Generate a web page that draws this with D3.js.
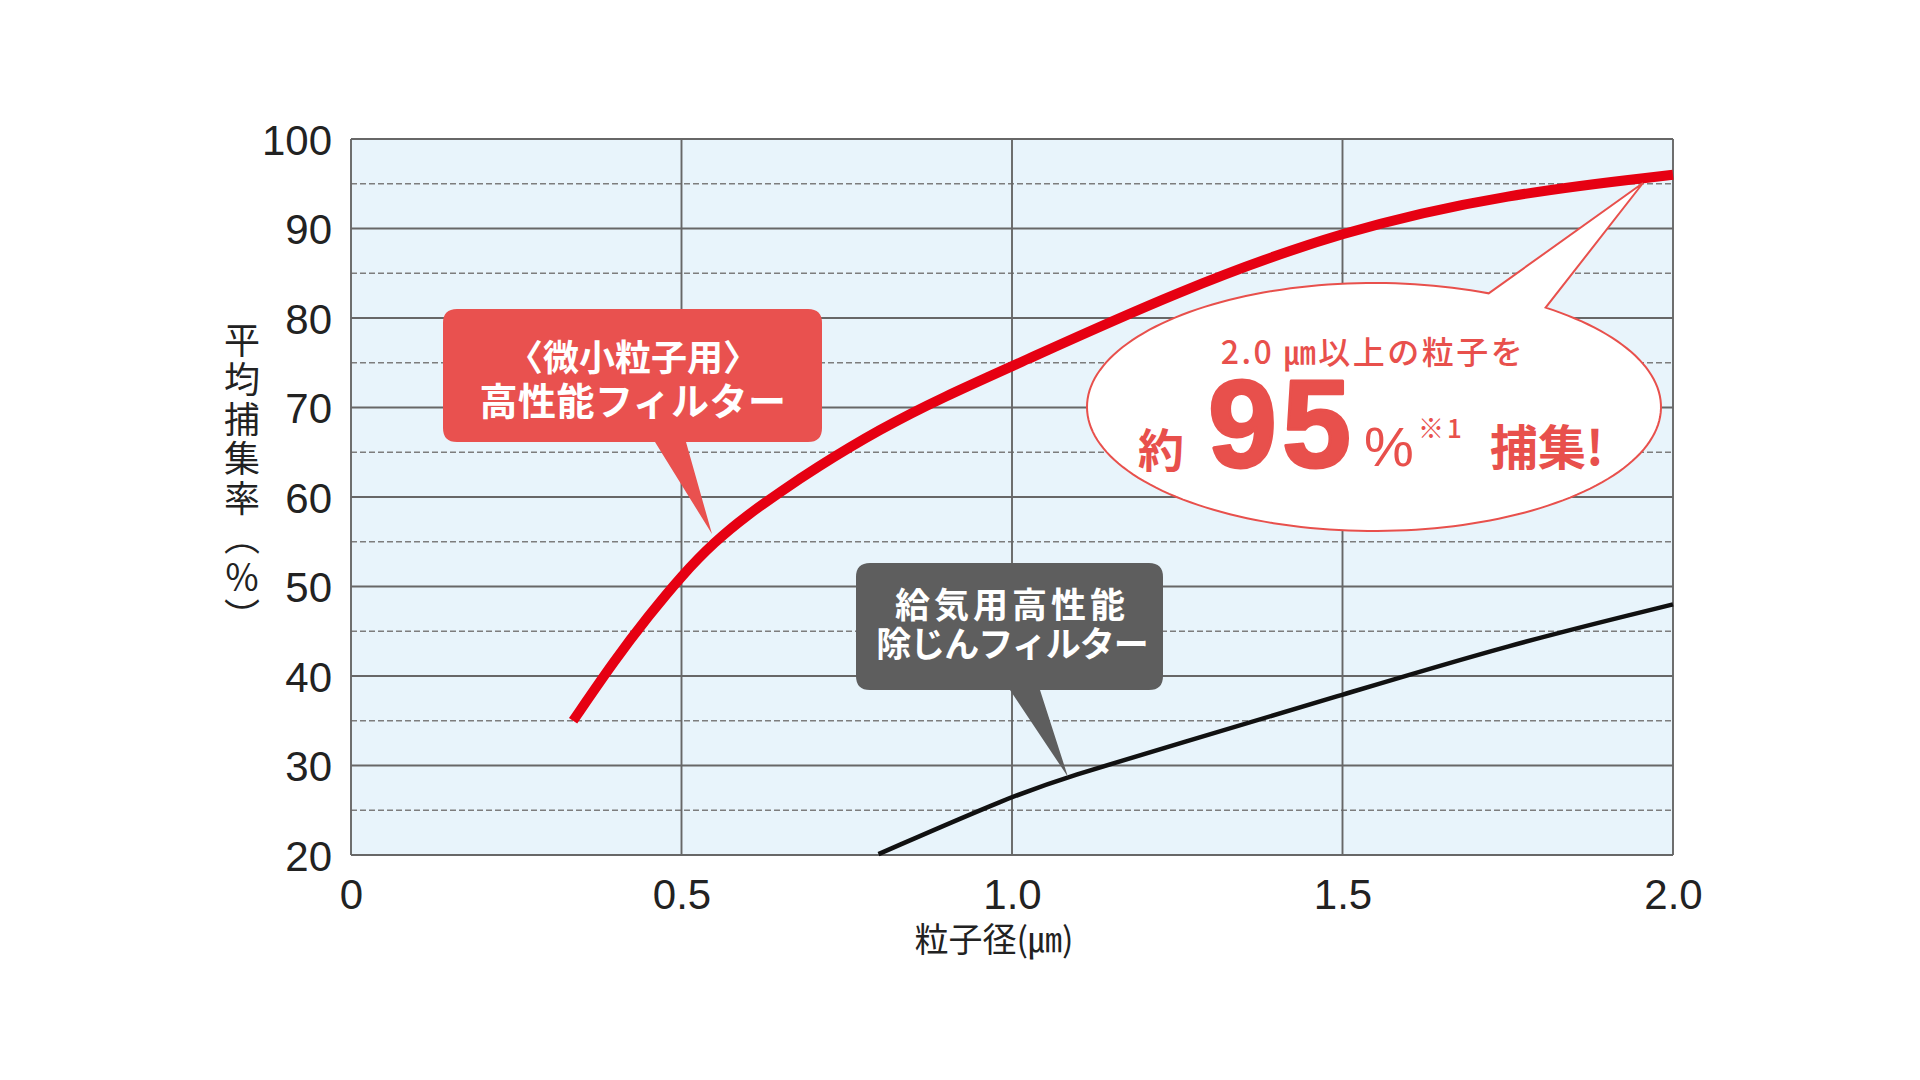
<!DOCTYPE html>
<html>
<head>
<meta charset="utf-8">
<script src="https://cdn.jsdelivr.net/npm/d3@7"></script>
<style>
  html, body { margin: 0; padding: 0; background: #ffffff; }
  svg { display: block; }
</style>
</head>
<body>
<svg id="chart" width="1920" height="1080"></svg>
<script>
// ---- data ----
const xTicks = [0, 0.5, 1.0, 1.5, 2.0];
const xTickLabels = ["0", "0.5", "1.0", "1.5", "2.0"];
const yTicks = [20, 30, 40, 50, 60, 70, 80, 90, 100];
const yMinorTicks = [25, 35, 45, 55, 65, 75, 85, 95];

// 〈微小粒子用〉高性能フィルター
const fineX = [0.336, 0.4, 0.45, 0.5, 0.55, 0.6, 0.65, 0.7, 0.8, 0.9, 1.0, 1.25, 1.5, 1.75, 2.0];
const fineY = [35, 41.9, 46.7, 51.2, 55.0, 58.0, 60.6, 63.1, 67.6, 71.3, 74.6, 83.0, 89.8, 93.9, 96.0];

// 給気用高性能除じんフィルター
const supplyX = [0.798, 1.0, 1.087, 1.245, 1.5, 1.752, 2.0];
const supplyY = [20.1, 26.6, 28.8, 32.3, 37.9, 43.5, 48.0];

const xTitle = "粒子径(㎛)";
const yTitle = "平均捕集率（％）";
const fineLabel = ["〈微小粒子用〉", "高性能フィルター"];
const supplyLabel = ["給気用高性能", "除じんフィルター"];

// ---- layout ----
const svg = d3.select("#chart");
const L = 351, R = 1673, T = 139, B = 855;
const x = d3.scaleLinear().domain([0, 2]).range([L, R]);
const y = d3.scaleLinear().domain([20, 100]).range([B, T]);

const gridColor = "#676767";
const numFont = "'Liberation Sans', Arial, sans-serif";
const jpFont = "'Noto Sans CJK JP', 'Noto Sans', sans-serif";

// plot background
svg.append("rect").attr("x", L).attr("y", T).attr("width", R - L).attr("height", B - T)
  .attr("fill", "#e8f4fb");

// dashed minor grid
svg.append("g").selectAll("line").data(yMinorTicks).join("line")
  .attr("x1", L).attr("x2", R).attr("y1", d => y(d)).attr("y2", d => y(d))
  .attr("stroke", "#7d7d7d").attr("stroke-width", 1.6).attr("stroke-dasharray", "6,3");

// solid major grid
svg.append("g").selectAll("line").data(yTicks).join("line")
  .attr("x1", L).attr("x2", R).attr("y1", d => y(d)).attr("y2", d => y(d))
  .attr("stroke", gridColor).attr("stroke-width", 1.9);
svg.append("g").selectAll("line").data(xTicks).join("line")
  .attr("x1", d => x(d)).attr("x2", d => x(d)).attr("y1", T).attr("y2", B)
  .attr("stroke", gridColor).attr("stroke-width", 1.9);

// axes tick labels via d3 axes
const yAxis = d3.axisLeft(y).tickValues(yTicks).tickSize(0).tickPadding(19);
const gy = svg.append("g").attr("transform", `translate(${L},0)`).call(yAxis);
gy.select(".domain").remove();
gy.selectAll("text").attr("font-family", numFont).attr("font-size", 42).attr("fill", "#222")
  .attr("dy", "0.36em");

const xAxis = d3.axisBottom(x).tickValues(xTicks).tickSize(0).tickPadding(24)
  .tickFormat((d, i) => xTickLabels[i]);
const gx = svg.append("g").attr("transform", `translate(0,${B})`).call(xAxis);
gx.select(".domain").remove();
gx.selectAll("text").attr("font-family", numFont).attr("font-size", 42).attr("fill", "#222");

// axis titles
svg.append("text").attr("x", 994).attr("y", 952).attr("text-anchor", "middle")
  .attr("font-family", jpFont).attr("font-size", 34).attr("fill", "#222")
  .text(xTitle);

svg.append("text").attr("x", 242).attr("y", 322)
  .attr("font-family", jpFont).attr("font-size", 36).attr("fill", "#222")
  .attr("letter-spacing", 3.5)
  .style("writing-mode", "vertical-rl")
  .attr("text-anchor", "start")
  .text(yTitle);

// ---- curves ----
const lineGen = d3.line().x(d => x(d[0])).y(d => y(d[1])).curve(d3.curveBasis);
svg.append("path").datum(supplyX.map((v, i) => [v, supplyY[i]]))
  .attr("d", lineGen).attr("fill", "none").attr("stroke", "#111").attr("stroke-width", 4.5);
svg.append("path").datum(fineX.map((v, i) => [v, fineY[i]]))
  .attr("d", lineGen).attr("fill", "none").attr("stroke", "#e60012").attr("stroke-width", 10);

// ---- callouts ----
function roundBox(x0, y0, x1, y1, r, tail) {
  const p = d3.path();
  p.moveTo(x0 + r, y0);
  p.lineTo(x1 - r, y0); p.quadraticCurveTo(x1, y0, x1, y0 + r);
  p.lineTo(x1, y1 - r); p.quadraticCurveTo(x1, y1, x1 - r, y1);
  p.lineTo(tail[1], y1); p.lineTo(tail[2][0], tail[2][1]); p.lineTo(tail[0], y1);
  p.lineTo(x0 + r, y1); p.quadraticCurveTo(x0, y1, x0, y1 - r);
  p.lineTo(x0, y0 + r); p.quadraticCurveTo(x0, y0, x0 + r, y0);
  p.closePath();
  return p.toString();
}

// red box
svg.append("path").attr("d", roundBox(443, 309, 822, 442, 14, [655, 686, [712, 534]]))
  .attr("fill", "#e9514f");
svg.append("text").attr("x", 633).attr("y", 371).attr("text-anchor", "middle")
  .attr("font-family", jpFont).attr("font-weight", 700).attr("font-size", 36).attr("fill", "#fff")
  .text(fineLabel[0]);
svg.append("text").attr("x", 633).attr("y", 415).attr("text-anchor", "middle")
  .attr("font-family", jpFont).attr("font-weight", 700).attr("font-size", 38).attr("fill", "#fff")
  .attr("letter-spacing", 0.5)
  .text(fineLabel[1]);

// gray box
svg.append("path").attr("d", roundBox(856, 563, 1163, 690, 14, [1010, 1040, [1068, 777]]))
  .attr("fill", "#5e5e5e");
svg.append("text").attr("x", 1012).attr("y", 618).attr("text-anchor", "middle")
  .attr("font-family", jpFont).attr("font-weight", 700).attr("font-size", 35).attr("fill", "#fff")
  .attr("letter-spacing", 4)
  .text(supplyLabel[0]);
svg.append("text").attr("x", 1012).attr("y", 657).attr("text-anchor", "middle")
  .attr("font-family", jpFont).attr("font-weight", 700).attr("font-size", 35).attr("fill", "#fff")
  .attr("letter-spacing", -1)
  .text(supplyLabel[1]);

// ellipse callout
const cx = 1374, cy = 407, rx = 287, ry = 124;
const ang1 = Math.atan2((294 - cy) / ry, (1488 - cx) / rx);
const ang2 = Math.atan2((308 - cy) / ry, (1545 - cx) / rx);
const ep = d3.path();
const steps = 180;
let a0 = ang2, a1 = ang1 + 2 * Math.PI;
for (let i = 0; i <= steps; i++) {
  const a = a0 + (a1 - a0) * i / steps;
  const px = cx + rx * Math.cos(a), py = cy + ry * Math.sin(a);
  if (i === 0) ep.moveTo(px, py); else ep.lineTo(px, py);
}
ep.lineTo(1643, 183);
ep.closePath();
svg.append("path").attr("d", ep.toString()).attr("fill", "#ffffff")
  .attr("stroke", "#e8504c").attr("stroke-width", 2);

const red = "#e8504c";
svg.append("text").attr("x", 1373).attr("y", 364).attr("text-anchor", "middle")
  .attr("font-family", jpFont).attr("font-weight", 500).attr("font-size", 32).attr("fill", red)
  .attr("letter-spacing", 2.5)
  .text("2.0 ㎛以上の粒子を");

svg.append("text").attr("x", 1138).attr("y", 467).attr("fill", red).attr("font-family", jpFont)
  .attr("font-size", 46).attr("font-weight", 700).text("約");
svg.append("text").attr("x", 1208).attr("y", 467).attr("fill", red).attr("stroke", red)
  .attr("stroke-width", 3).attr("stroke-linejoin", "round")
  .attr("font-family", numFont).attr("font-size", 124).attr("font-weight", 700)
  .attr("letter-spacing", 5).text("95");
svg.append("text").attr("x", 1364).attr("y", 466).attr("fill", red).attr("font-family", numFont)
  .attr("font-size", 56).text("%");
svg.append("text").attr("x", 1418).attr("y", 438).attr("fill", red).attr("font-family", jpFont)
  .attr("font-size", 26).attr("font-weight", 500).attr("letter-spacing", 3).text("※1");
svg.append("text").attr("x", 1490).attr("y", 465).attr("fill", red).attr("font-family", jpFont)
  .attr("font-size", 48).attr("font-weight", 700).text("捕集!");
</script>
</body>
</html>
